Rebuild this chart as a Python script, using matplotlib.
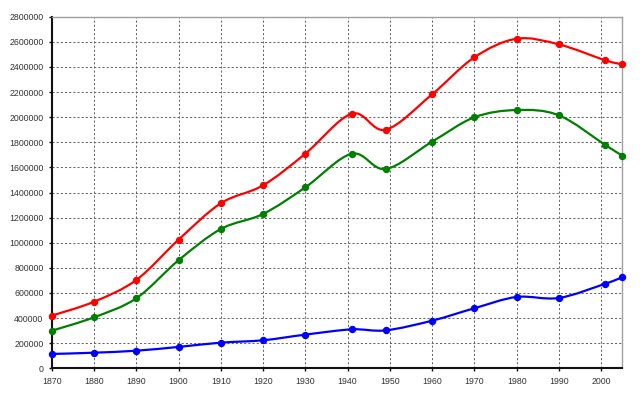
import matplotlib
matplotlib.use('Agg')
import matplotlib.pyplot as plt
from matplotlib.path import Path
from matplotlib.patches import PathPatch
import numpy as np

years = [1870, 1880, 1890, 1900, 1910, 1920, 1930, 1941, 1949,
         1960, 1970, 1980, 1990, 2001, 2005]
total = [419000, 530000, 703000, 1024000, 1314000, 1457000, 1709000, 2028000,
         1900000, 2182000, 2477000, 2625000, 2580000, 2453000, 2421000]
city = [299000, 406000, 557000, 860000, 1109000, 1229000, 1441000, 1709000,
        1587000, 1805000, 1999000, 2057000, 2015000, 1778000, 1693000]
suburbs = [114000, 124000, 140000, 170000, 204000, 223000, 268000, 310000,
           302000, 379000, 478000, 568000, 560000, 674000, 725000]

x_ticks = list(range(1870, 2001, 10))
y_ticks = list(range(0, 2800001, 200000))


def smooth_path(xs, ys):
    # catmull-rom through the points, drawn as cubic bezier segments
    pts = np.column_stack([xs, ys]).astype(float)
    ext = np.vstack([pts[0], pts, pts[-1]])
    verts = [pts[0]]
    codes = [Path.MOVETO]
    for i in range(1, len(ext) - 2):
        p0, p1, p2, p3 = ext[i - 1], ext[i], ext[i + 1], ext[i + 2]
        c1 = p1 + (p2 - p0) / 6.0
        c2 = p2 - (p3 - p1) / 6.0
        verts += [c1, c2, p2]
        codes += [Path.CURVE4] * 3
    return Path(verts, codes)


fig = plt.figure(figsize=(6.4, 3.99), dpi=100)
ax = fig.add_axes([0.0808, 0.077, 0.8915, 0.881])

for ys, col in [(suburbs, '#0000ff'), (city, '#008000'), (total, '#ff0000')]:
    ax.add_patch(PathPatch(smooth_path(years, ys), facecolor='none',
                           edgecolor=col, lw=1.6, zorder=3, clip_on=False))
    ax.plot(years, ys, 'o', color=col, ms=4.3, zorder=4, clip_on=False)

ax.set_xlim(1870, 2005)
ax.set_ylim(0, 2800000)
ax.set_xticks(x_ticks)
ax.set_yticks(y_ticks)
ax.set_xticklabels([str(v) for v in x_ticks])
ax.set_yticklabels([str(v) for v in y_ticks])
ax.grid(True, linestyle=(0, (2, 2)), color='#666666', linewidth=0.75)
ax.set_axisbelow(True)

for side in ['left', 'bottom']:
    ax.spines[side].set_linewidth(1.5)
    ax.spines[side].set_color('#111111')
for side in ['top', 'right']:
    ax.spines[side].set_linewidth(1.0)
    ax.spines[side].set_color('#a0a0a0')

ax.tick_params(axis='both', labelsize=6.3, labelcolor='#333333', length=2.5,
               width=1, color='#111111')
for lab in ax.get_xticklabels() + ax.get_yticklabels():
    lab.set_family('Liberation Sans')

fig.savefig('out.png', dpi=100)
